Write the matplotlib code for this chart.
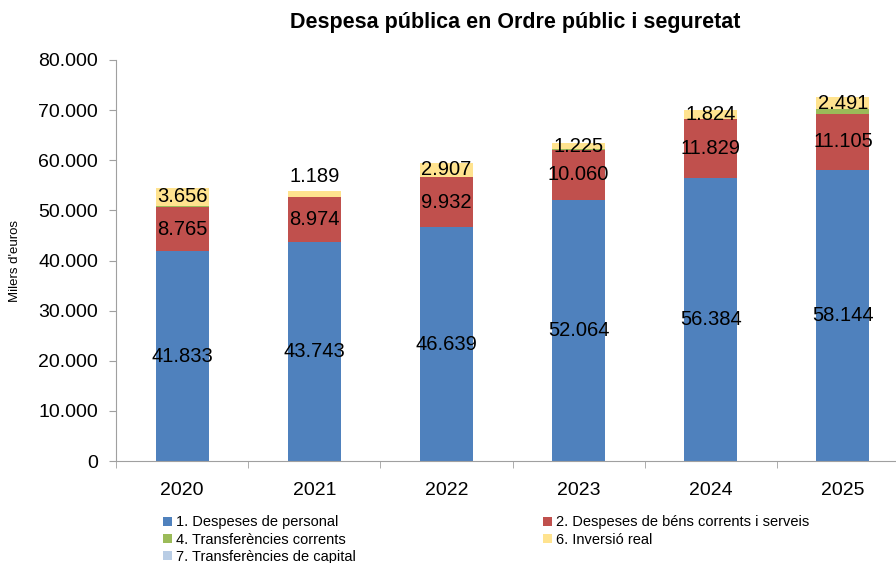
import numpy as np
import matplotlib
matplotlib.use("Agg")
import matplotlib.pyplot as plt

plt.rcParams['font.family'] = ['Liberation Sans', 'DejaVu Sans']

# dades (milers d'euros)
years = ["2020", "2021", "2022", "2023", "2024", "2025"]
personal = [41833, 43743, 46639, 52064, 56384, 58144]
bens = [8765, 8974, 9932, 10060, 11829, 11105]
transf_corr = [250, 40, 60, 60, 80, 900]
inversio = [3656, 1189, 2907, 1225, 1824, 2491]
transf_cap = [0, 0, 0, 0, 0, 0]

def fmt(v):
    return f"{v:,}".replace(",", ".")

fig = plt.figure(figsize=(8.96, 5.63), dpi=100)
ax = fig.add_axes([116/896, 1-461/563, 793/896, 401/563])

x = np.arange(len(years))
w = 0.4
c_blue = "#4F81BD"
c_red = "#C0504D"
c_green = "#9BBB59"
c_yel = "#FFE38F"
c_lb = "#B9CDE5"

b0 = np.zeros(len(years))
p1 = ax.bar(x, personal, w, bottom=b0, color=c_blue)
b1 = b0 + personal
p2 = ax.bar(x, bens, w, bottom=b1, color=c_red)
b2 = b1 + bens
p4 = ax.bar(x, transf_corr, w, bottom=b2, color=c_green)
b3 = b2 + transf_corr
p6 = ax.bar(x, inversio, w, bottom=b3, color=c_yel)
b4 = b3 + inversio
p7 = ax.bar(x, transf_cap, w, bottom=b4, color=c_lb)

lab_fs = 14.5
for i in range(len(years)):
    ax.text(x[i], personal[i] / 2, fmt(personal[i]), ha="center", va="center", fontsize=lab_fs)
    ax.text(x[i], b1[i] + bens[i] / 2, fmt(bens[i]), ha="center", va="center", fontsize=lab_fs)
    if i == 1:
        ax.annotate(fmt(inversio[i]), (x[i], b4[i]), xytext=(0, 3), textcoords="offset points",
                    ha="center", va="bottom", fontsize=lab_fs)
    else:
        ax.text(x[i], b3[i] + inversio[i] / 2, fmt(inversio[i]), ha="center", va="center", fontsize=lab_fs)

ax.set_xlim(-0.5, len(years) - 0.5)
ax.set_ylim(0, 80000)
ax.set_yticks(np.arange(0, 80001, 10000))
ax.set_yticklabels([fmt(v) for v in range(0, 80001, 10000)], fontsize=14)
ax.set_xticks(x)
ax.set_xticklabels(years, fontsize=14)
ax.set_xticks(np.arange(-0.5, len(years), 1), minor=True)
ax.tick_params(axis="x", which="major", length=0, pad=15)
ax.tick_params(axis="x", which="minor", length=5, color="#A0A0A0", direction="out")
ax.tick_params(axis="y", length=5, color="#A0A0A0", direction="out", pad=8)
for s in ["top", "right"]:
    ax.spines[s].set_visible(False)
for s in ["left", "bottom"]:
    ax.spines[s].set_color("#A0A0A0")
ax.set_ylabel("Milers d'euros", fontsize=9.5, labelpad=12)

fig.suptitle("Despesa pública en Ordre públic i seguretat", fontsize=15.5,
             fontweight="bold", x=515/896, y=1-12/563)

handles = [p1, p4, p7, p2, p6]
labels = ["1. Despeses de personal", "4. Transferències corrents",
          "7. Transferències de capital", "2. Despeses de béns corrents i serveis",
          "6. Inversió real"]
fig.legend(handles, labels, ncol=2, loc="upper left", bbox_to_anchor=(156/896, 1-508/563),
           frameon=False, fontsize=10.5, handlelength=0.6, handleheight=0.6,
           handletextpad=0.3, labelspacing=0.22, columnspacing=12.8, borderpad=0)

fig.savefig("out.png", dpi=100)
